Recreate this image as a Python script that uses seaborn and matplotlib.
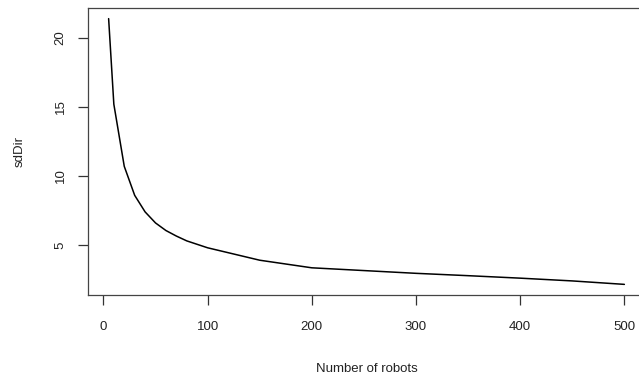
import matplotlib
matplotlib.use("Agg")
import matplotlib.pyplot as plt
import seaborn as sns
import pandas as pd

# Standard deviation of heading vs. swarm size
robots = [5, 10, 20, 30, 40, 50, 60, 70, 80, 90, 100, 150, 200, 250, 300, 350, 400, 450, 500]
sd_dir = [21.4, 15.2, 10.7, 8.6, 7.4, 6.6, 6.05, 5.65, 5.3, 5.05, 4.8, 3.9, 3.35, 3.15, 2.95, 2.78, 2.6, 2.4, 2.15]
x_ticks = [0, 100, 200, 300, 400, 500]
y_ticks = [5, 10, 15, 20]

df = pd.DataFrame({"robots": robots, "sdDir": sd_dir})

sns.set_style("white")
plt.rcParams["font.family"] = ["Liberation Sans", "DejaVu Sans"]

W, H = 639, 377
fig = plt.figure(figsize=(W / 100, H / 100), dpi=100)
left, right, top, bottom = 88, 645, 8, 295
ax = fig.add_axes([left / W, 1 - bottom / H, (right - left) / W, (bottom - top) / H])

sns.lineplot(data=df, x="robots", y="sdDir", color="black", linewidth=1.1, ax=ax)

xspan = max(robots) - min(robots)
yspan = max(sd_dir) - min(sd_dir)
ax.set_xlim(min(robots) - 0.04 * xspan, max(robots) + 0.04 * xspan)
ax.set_ylim(min(sd_dir) - 0.04 * yspan, max(sd_dir) + 0.04 * yspan)

ax.set_xticks(x_ticks)
ax.set_yticks(y_ticks)
ax.set_xticklabels([str(t) for t in x_ticks])
ax.set_yticklabels([str(t) for t in y_ticks], rotation=90, va="center")

for s in ax.spines.values():
    s.set_visible(True)
    s.set_color("#444444")
    s.set_linewidth(0.9)

ax.tick_params(axis="both", direction="out", length=7, width=0.9, color="#333333",
               labelsize=9.5, labelcolor="#222222", bottom=True, left=True)
ax.tick_params(axis="x", pad=12)
ax.tick_params(axis="y", pad=8.5)

ax.set_xlabel("Number of robots", fontsize=9.5, color="#222222", labelpad=21.5)
ax.set_ylabel("sdDir", fontsize=9.5, color="#222222", labelpad=21)

fig.savefig("out.png", dpi=100)
